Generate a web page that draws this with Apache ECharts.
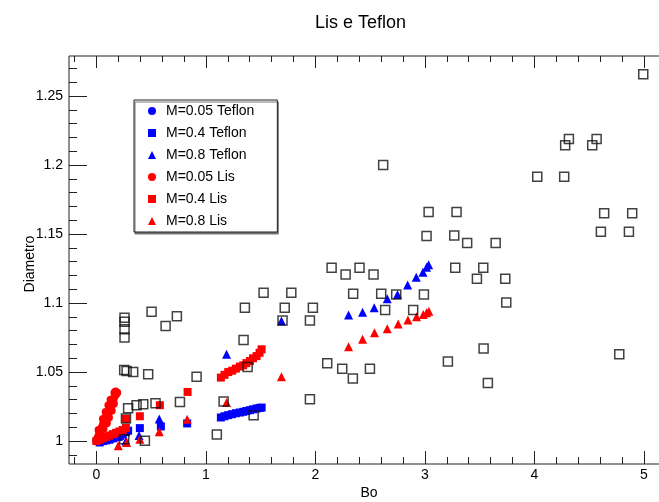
<!DOCTYPE html>
<html>
<head>
<meta charset="utf-8">
<script src="https://cdn.jsdelivr.net/npm/echarts@6/dist/echarts.min.js"></script>
<style>
  html, body { margin: 0; padding: 0; background: #fff; }
  #chart { width: 659px; height: 502px; }
</style>
</head>
<body>
<div id="chart"></div>
<script>
// Bond number (Bo) versus normalised drop diameter, smooth ("Lis") and Teflon surfaces.

// M = 0.05, Teflon
const teflon005 = [
  [0.00, 1.000], [0.02, 1.000], [0.04, 1.000], [0.06, 1.0005], [0.08, 1.001], [0.10, 1.001],
  [0.12, 1.0015], [0.14, 1.002], [0.16, 1.002], [0.18, 1.0025], [0.20, 1.003], [0.22, 1.003]
];
// M = 0.4, Teflon
const teflon04 = [
  [0.03, 0.999], [0.06, 1.000], [0.09, 1.0005], [0.12, 1.001], [0.15, 1.002], [0.18, 1.003],
  [0.21, 1.004], [0.24, 1.005], [0.27, 1.0065], [0.29, 1.0075], [0.397, 1.0094], [0.589, 1.0106],
  [0.829, 1.0128],
  [1.137, 1.0171], [1.17, 1.018], [1.204, 1.0188], [1.24, 1.0195], [1.274, 1.0202], [1.31, 1.0207],
  [1.341, 1.0212], [1.37, 1.0218], [1.402, 1.0224], [1.43, 1.023], [1.463, 1.0236], [1.49, 1.024],
  [1.509, 1.0243]
];
// M = 0.8, Teflon
const teflon08 = [
  [0.27, 1.000], [0.39, 1.004], [0.574, 1.016], [1.189, 1.0629], [1.69, 1.087],
  [2.303, 1.0913], [2.431, 1.0934], [2.537, 1.0966], [2.656, 1.1031], [2.75, 1.1062],
  [2.842, 1.113], [2.921, 1.1187], [2.982, 1.1223], [3.015, 1.126], [3.034, 1.1277]
];
// M = 0.05, Lis
const lis005 = [
  [0.00, 1.000], [0.01, 1.002], [0.02, 1.004], [0.03, 1.006], [0.04, 1.008], [0.05, 1.010],
  [0.06, 1.012], [0.07, 1.014], [0.08, 1.016], [0.09, 1.018], [0.10, 1.019], [0.11, 1.021],
  [0.12, 1.022], [0.13, 1.024], [0.135, 1.026], [0.14, 1.027], [0.15, 1.029], [0.16, 1.031],
  [0.17, 1.033], [0.18, 1.034], [0.19, 1.035],
  [0.03, 1.002], [0.045, 1.005], [0.02, 1.008], [0.065, 1.009], [0.06, 1.016], [0.095, 1.013],
  [0.085, 1.021], [0.115, 1.017], [0.11, 1.026], [0.14, 1.022], [0.13, 1.030], [0.16, 1.027],
  [0.165, 1.035], [0.175, 1.036]
];
// M = 0.4, Lis
const lis04 = [
  [0.00, 1.000], [0.03, 1.001], [0.06, 1.002], [0.09, 1.003], [0.12, 1.004], [0.15, 1.005],
  [0.18, 1.006], [0.21, 1.007], [0.24, 1.008], [0.27, 1.0095], [0.27, 1.016], [0.397, 1.018],
  [0.58, 1.026], [0.833, 1.0356],
  [1.137, 1.046], [1.17, 1.048], [1.204, 1.050], [1.24, 1.051], [1.274, 1.0525], [1.31, 1.054],
  [1.341, 1.0549], [1.37, 1.0565], [1.402, 1.058], [1.43, 1.060], [1.463, 1.0616], [1.49, 1.064],
  [1.509, 1.0665]
];
// M = 0.8, Lis
const lis08 = [
  [0.20, 0.9966], [0.276, 0.999], [0.397, 1.0014], [0.574, 1.0067], [0.829, 1.0159], [1.189, 1.028],
  [1.69, 1.0467], [2.303, 1.0684], [2.431, 1.0737], [2.54, 1.0785], [2.656, 1.0814], [2.756, 1.0848],
  [2.845, 1.0877], [2.924, 1.0901], [2.985, 1.0918], [3.015, 1.093], [3.036, 1.0941]
];
// Additional measurements (open squares, not in the legend)
const outros = [
  [0.254, 1.0014], [0.443, 1.0002], [0.27, 1.0164], [0.29, 1.0238], [0.367, 1.026], [0.428, 1.0267],
  [0.54, 1.0275], [0.763, 1.0284], [0.254, 1.0515], [0.276, 1.0508], [0.336, 1.050], [0.473, 1.0484],
  [0.915, 1.0467], [0.257, 1.075], [0.257, 1.081], [0.257, 1.0865], [0.257, 1.0894], [0.504, 1.0937],
  [0.632, 1.0833], [0.735, 1.0905], [1.10, 1.0048], [1.162, 1.0287], [1.436, 1.0188], [1.381, 1.0537],
  [1.344, 1.0732], [1.356, 1.0966], [1.527, 1.1074], [1.70, 1.0874], [1.72, 1.0966], [1.78, 1.1074],
  [1.95, 1.0874], [1.977, 1.0966], [1.95, 1.0303], [2.108, 1.0564], [2.245, 1.0525], [2.342, 1.0453],
  [2.498, 1.0525], [2.148, 1.1255], [2.276, 1.1207], [2.403, 1.1255], [2.531, 1.1207], [2.345, 1.1067],
  [2.601, 1.1067], [2.738, 1.1062], [2.991, 1.1062], [2.637, 1.0949], [2.893, 1.0949], [2.619, 1.2001],
  [3.015, 1.1486], [3.034, 1.166], [3.268, 1.149], [3.289, 1.166], [3.277, 1.1255], [3.533, 1.1255],
  [3.386, 1.1436], [3.646, 1.1436], [3.475, 1.1176], [3.734, 1.1176], [3.743, 1.1004], [3.536, 1.067],
  [3.21, 1.0576], [3.575, 1.042], [4.026, 1.1915], [4.272, 1.1915], [4.281, 1.2144], [4.315, 1.2189],
  [4.528, 1.2144], [4.568, 1.2189], [4.607, 1.1517], [4.637, 1.165], [4.863, 1.1517], [4.893, 1.165],
  [4.775, 1.063], [4.994, 1.2657]
];

// Axis ticks
const xMajorTicks = [0, 1, 2, 3, 4, 5];
const yMajorTicks = [1, 1.05, 1.1, 1.15, 1.2, 1.25];
const xRange = [-0.25, 5.156];
const yRange = [0.9834, 1.279];

function minorBetween(range, step, majors) {
  const out = [];
  const start = Math.ceil(range[0] / step);
  const end = Math.floor(range[1] / step);
  for (let i = start; i <= end; i++) {
    const v = +(i * step).toFixed(6);
    if (!majors.some(m => Math.abs(m - v) < 1e-9)) out.push(v);
  }
  return out;
}
const xMinorTicks = minorBetween(xRange, 0.2, xMajorTicks);
const yMinorTicks = minorBetween(yRange, 0.01, yMajorTicks);

const FONT = "'Liberation Sans', Arial, Helvetica, sans-serif";
const INK = '#222';

function xAx(position, ticks, len, labels) {
  return {
    type: 'value', gridIndex: 0, position: position,
    min: xRange[0], max: xRange[1],
    axisLine: { show: false, onZero: false },
    splitLine: { show: false },
    axisTick: { show: true, inside: true, length: len, customValues: ticks,
                lineStyle: { color: INK, width: 1 } },
    axisLabel: labels ? { show: true, customValues: ticks, margin: 4,
                          color: '#000', fontSize: 14, fontFamily: FONT } : { show: false }
  };
}
function yAx(ticks, len, labels) {
  return {
    type: 'value', gridIndex: 0, position: 'left',
    min: yRange[0], max: yRange[1],
    axisLine: { show: false, onZero: false },
    splitLine: { show: false },
    axisTick: { show: true, inside: true, length: len, customValues: ticks,
                lineStyle: { color: INK, width: 1 } },
    axisLabel: labels ? { show: true, customValues: ticks, margin: 6,
                          color: '#000', fontSize: 14, fontFamily: FONT } : { show: false }
  };
}

const xAxes = [
  xAx('bottom', xMajorTicks, 13, true),
  xAx('bottom', xMinorTicks, 7, false),
  xAx('top', xMajorTicks, 12, false),
  xAx('top', xMinorTicks, 6, false)
];
xAxes[0].name = 'Bo';
xAxes[0].nameLocation = 'middle';
xAxes[0].nameGap = 22;
xAxes[0].nameMoveOverlap = false;
xAxes[0].nameTextStyle = { color: '#000', fontSize: 14, fontFamily: FONT, padding: [0, 0, 0, 8] };

const yAxes = [yAx(yMajorTicks, 18, true), yAx(yMinorTicks, 8, false)];
yAxes[0].name = 'Diametro';
yAxes[0].nameLocation = 'middle';
yAxes[0].nameGap = 32;
yAxes[0].nameMoveOverlap = false;
yAxes[0].nameTextStyle = { color: '#000', fontSize: 14, fontFamily: FONT, padding: [0, 8, 0, 0] };

function filled(name, data, symbol, color, size) {
  return {
    type: 'scatter', name: name, data: data, symbol: symbol, symbolSize: size,
    xAxisIndex: 0, yAxisIndex: 0,
    itemStyle: { color: color, opacity: 1 },
    emphasis: { disabled: true }
  };
}

const chart = echarts.init(document.getElementById('chart'), null, { renderer: 'canvas' });
chart.setOption({
  animation: false,
  backgroundColor: '#fff',
  title: {
    text: 'Lis e Teflon', left: 310, top: 9,
    textStyle: { fontSize: 18, fontWeight: 'normal', color: '#000', fontFamily: FONT }
  },
  grid: {
    left: 69, top: 56, right: -2, bottom: 38,
    containLabel: false, outerBoundsMode: 'none',
    show: true, borderColor: INK, borderWidth: 1, backgroundColor: 'transparent'
  },
  legend: {
    orient: 'vertical', left: 134, top: 100,
    itemWidth: 8, itemHeight: 8, itemGap: 0,
    padding: [0, 23, 0, 14],
    backgroundColor: '#fff', borderColor: INK, borderWidth: 1,
    shadowColor: '#777', shadowBlur: 0, shadowOffsetX: 1, shadowOffsetY: 2,
    selectedMode: false,
    textStyle: { fontSize: 14, lineHeight: 22, color: '#000', fontFamily: FONT, padding: [0, 0, 0, 5] },
    data: [
      { name: 'M=0.05 Teflon', icon: 'circle' },
      { name: 'M=0.4 Teflon', icon: 'rect' },
      { name: 'M=0.8 Teflon', icon: 'triangle' },
      { name: 'M=0.05 Lis', icon: 'circle' },
      { name: 'M=0.4 Lis', icon: 'rect' },
      { name: 'M=0.8 Lis', icon: 'triangle' }
    ]
  },
  xAxis: xAxes,
  yAxis: yAxes,
  series: [
    filled('M=0.05 Teflon', teflon005, 'circle', '#0000ff', 8),
    filled('M=0.4 Teflon', teflon04, 'rect', '#0000ff', 8),
    filled('M=0.8 Teflon', teflon08, 'triangle', '#0000ff', 9),
    filled('M=0.05 Lis', lis005, 'circle', '#ff0000', 8),
    filled('M=0.4 Lis', lis04, 'rect', '#ff0000', 8),
    filled('M=0.8 Lis', lis08, 'triangle', '#ff0000', 9),
    {
      type: 'scatter', name: 'Outros', data: outros, symbol: 'rect', symbolSize: 9,
      xAxisIndex: 0, yAxisIndex: 0,
      itemStyle: { color: 'rgba(0,0,0,0)', borderColor: '#111', borderWidth: 1.5 },
      emphasis: { disabled: true }
    }
  ]
});
</script>
</body>
</html>
